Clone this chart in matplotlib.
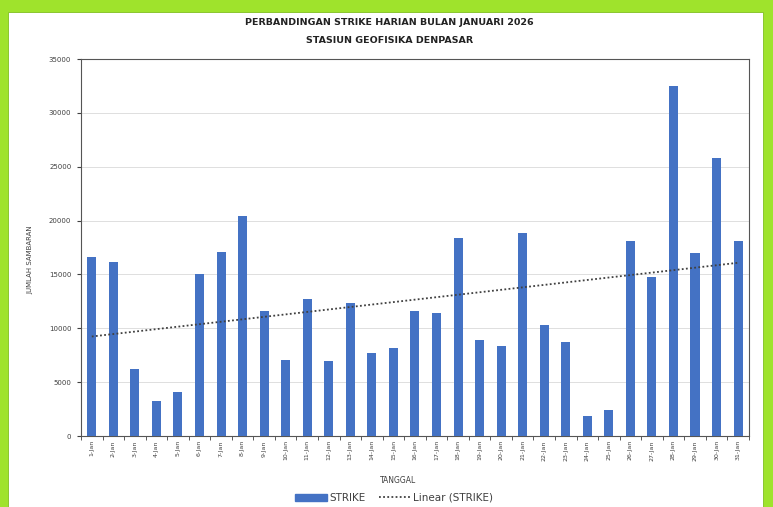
import numpy as np
import matplotlib
matplotlib.use("Agg")
import matplotlib.pyplot as plt
from matplotlib.patches import Rectangle
from matplotlib.lines import Line2D

# daily strike counts, January 2026
tanggal = [f"{d}-Jan" for d in range(1, 32)]
strike = [16620, 16150, 6220, 3250, 4090, 15040, 17080, 20420, 11600, 7060,
          12720, 6960, 12350, 7700, 8170, 11600, 11420, 18380, 8910, 8360,
          18850, 10300, 8730, 1860, 2410, 18100, 14760, 32500, 17000, 25800,
          18100]
y_ticks = [0, 5000, 10000, 15000, 20000, 25000, 30000, 35000]

BAR = "#4472c4"

fig = plt.figure(figsize=(7.73, 5.07), dpi=100)
fig.patch.set_facecolor("#9fe32c")
# white panel inside the green frame
fig.add_artist(Rectangle((0.0103, 0.0), 0.977, 0.976, transform=fig.transFigure,
                         facecolor="white", edgecolor="#7fbf1f", lw=0.6, zorder=0))

ax = fig.add_axes([0.1048, 0.140, 0.864, 0.7436])
x = np.arange(len(strike))
ax.bar(x, strike, width=0.42, color=BAR, zorder=3)

# linear trend line
k, b = np.polyfit(x, strike, 1)
ax.plot(x, k * x + b, linestyle=(0, (1, 1.3)), color="#404040", lw=1.3, zorder=4)

ax.set_xlim(-0.5, len(strike) - 0.5)
ax.set_ylim(0, 35000)
ax.set_yticks(y_ticks)
ax.set_yticklabels([str(v) for v in y_ticks], fontsize=5, color="#404040")
ax.set_xticks(x)
ax.set_xticklabels(tanggal, rotation=90, fontsize=4.5, color="#404040")
ax.set_xticks(np.arange(-0.5, len(strike)), minor=True)
ax.tick_params(axis="x", which="major", length=0, pad=3)
ax.tick_params(axis="x", which="minor", length=3, color="#404040", direction="out")
ax.tick_params(axis="y", length=3, color="#404040", pad=4)
ax.grid(axis="y", color="#d9d9d9", lw=0.6, zorder=0)
for s in ax.spines.values():
    s.set_color("#555555")
    s.set_linewidth(0.8)

fig.text(0.504, 0.955, "PERBANDINGAN STRIKE HARIAN BULAN JANUARI 2026",
         ha="center", va="center", fontsize=6.8, fontweight="bold",
         family="Liberation Sans Narrow", color="#222222")
fig.text(0.504, 0.920, "STASIUN GEOFISIKA DENPASAR",
         ha="center", va="center", fontsize=6.8, fontweight="bold",
         family="Liberation Sans Narrow", color="#222222")
fig.text(0.040, 0.487, "JUMLAH SAMBARAN", rotation=90, ha="center",
         va="center", fontsize=5, color="#404040")
fig.text(0.515, 0.052, "TANGGAL", ha="center", va="center",
         fontsize=5.5, color="#404040")

handles = [Rectangle((0, 0), 1, 1, color=BAR),
           Line2D([], [], linestyle=(0, (1, 1.3)), color="#404040", lw=1.3)]
fig.legend(handles, ["STRIKE", "Linear (STRIKE)"], loc="center",
           bbox_to_anchor=(0.51, 0.018), ncol=2, frameon=False, fontsize=7.5,
           handlelength=3.0, handleheight=0.6, columnspacing=1.2,
           handletextpad=0.3, labelcolor="#404040")

fig.savefig("out.png", dpi=100, facecolor=fig.get_facecolor())
